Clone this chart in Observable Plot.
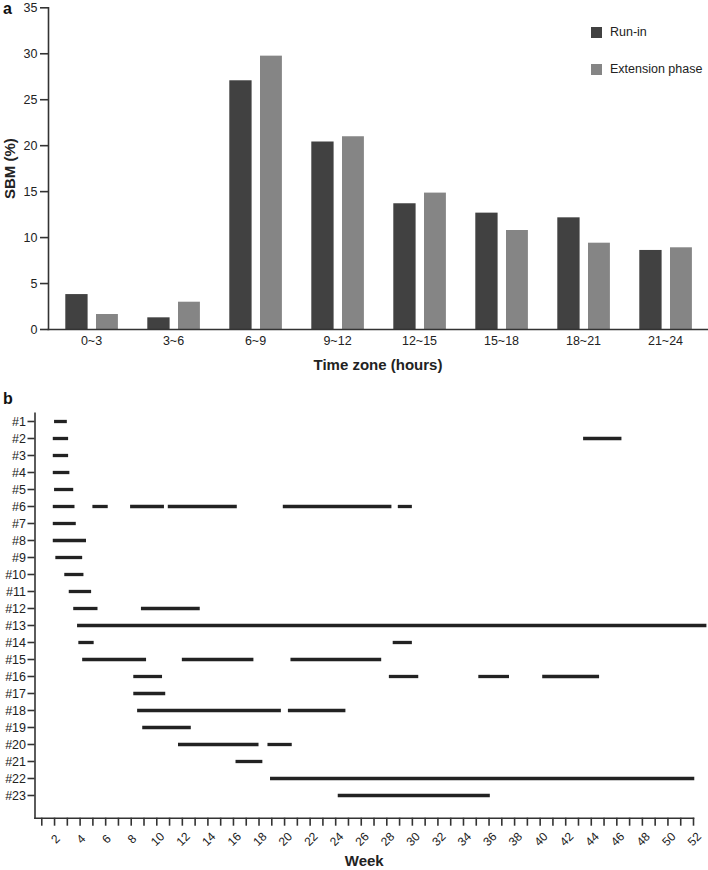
<!DOCTYPE html>
<html>
<head>
<meta charset="utf-8">
<script src="https://cdn.jsdelivr.net/npm/d3@7"></script>
<script src="https://cdn.jsdelivr.net/npm/@observablehq/plot@0.6"></script>
<style>
  html, body { margin: 0; padding: 0; background: #fff; }
  #wrap { position: relative; width: 708px; height: 870px; font-family: "Liberation Sans", Arial, sans-serif; }
  .panel { position: absolute; left: 3px; font-weight: bold; font-size: 16px; color: #111; }
  .legend { position: absolute; left: 591px; font-size: 12.5px; color: #222; display: flex; align-items: center; }
  .legend span.sw { display: inline-block; width: 11px; height: 11px; margin-right: 8px; }
  svg { display: block; }
</style>
</head>
<body>
<div id="wrap">
  <div id="chartA"></div>
  <div id="chartB"></div>
  <div class="panel" style="top:0px;">a</div>
  <div class="panel" style="top:390px;">b</div>
  <div class="legend" style="top:25px;"><span class="sw" style="background:#414141"></span>Run-in</div>
  <div class="legend" style="top:62px;"><span class="sw" style="background:#858585"></span>Extension phase</div>
</div>
<script>
// ---- Panel a data ----
const timeZones = ["0~3", "3~6", "6~9", "9~12", "12~15", "15~18", "18~21", "21~24"];
const runIn = [3.8, 1.27, 27.06, 20.4, 13.68, 12.66, 12.15, 8.6];
const extensionPhase = [1.63, 2.97, 29.74, 20.97, 14.84, 10.77, 9.39, 8.89];
const yTicksA = [0, 5, 10, 15, 20, 25, 30, 35];

// ---- Panel b data ----
const patients = d3.range(1, 24).map(i => "#" + i);
const segRow = ["#1","#2","#2","#3","#4","#5",
  "#6","#6","#6","#6","#6","#6",
  "#7","#8","#9","#10","#11","#12","#12","#13","#14","#14",
  "#15","#15","#15","#16","#16","#16","#16","#17","#18","#18","#19","#20","#20","#21","#22","#23"];
const segStart = [2.0,1.9,43.4,1.9,1.9,2.0,
  1.9,5.0,7.95,10.9,19.9,28.9,
  1.9,1.9,2.1,2.8,3.15,3.5,8.8,3.8,3.9,28.5,
  4.2,12.0,20.5,8.2,28.2,35.2,40.2,8.2,8.5,20.3,8.9,11.7,18.7,16.2,18.9,24.2];
const segEnd = [3.0,3.1,46.4,3.1,3.2,3.5,
  3.6,6.2,10.6,16.3,28.4,30.0,
  3.7,4.5,4.2,4.3,4.9,5.4,13.4,53.05,5.1,30.0,
  9.2,17.6,27.6,10.45,30.5,37.6,44.65,10.7,19.75,24.8,12.7,18.0,20.6,18.3,52.1,36.1];
const weekTicks = d3.range(1, 53);
const weekLabels = d3.range(2, 53, 2);

const barsA = timeZones.map((t, i) => ({zone: t, runIn: runIn[i], ext: extensionPhase[i]}));
const segments = segRow.map((r, i) => ({row: r, start: segStart[i], end: segEnd[i]}));

const font = "Liberation Sans, Arial, sans-serif";

const chartA = Plot.plot({
  width: 708,
  height: 375,
  marginTop: 7.3,
  marginBottom: 46,
  marginLeft: 48,
  marginRight: 1,
  style: {fontFamily: font, fontSize: "12px", color: "#222", background: "#fff"},
  x: {type: "band", domain: timeZones, padding: 0},
  y: {domain: [0, 35]},
  marks: [
    Plot.barY(barsA, {x: "zone", y: "runIn", fill: "#414141", insetLeft: 15.3, insetRight: 44.4}),
    Plot.barY(barsA, {x: "zone", y: "ext", fill: "#858585", insetLeft: 46, insetRight: 14.1}),
    Plot.frame({anchor: "left", stroke: "#333", strokeWidth: 1.6}),
    Plot.frame({anchor: "bottom", stroke: "#333", strokeWidth: 1.6}),
    Plot.axisY({ticks: yTicksA, tickSize: 8, tickPadding: 3, label: null, fontSize: 12.5, stroke: "#333", strokeWidth: 1.6}),
    Plot.axisY({ticks: [], label: "SBM (%)", labelArrow: "none", labelAnchor: "center", labelOffset: 44, fontSize: 15, fontWeight: "bold"}),
    Plot.axisX({tickSize: 0, tickPadding: 7, label: null, fontSize: 12.5}),
    Plot.axisX({ticks: [], label: "Time zone (hours)", labelArrow: "none", labelAnchor: "center", labelOffset: 40, fontSize: 15, fontWeight: "bold"})
  ]
});
document.getElementById("chartA").appendChild(chartA);

const chartB = Plot.plot({
  width: 708,
  height: 495,
  marginTop: 37.7,
  marginBottom: 52.3,
  marginLeft: 34.5,
  marginRight: 15,
  style: {fontFamily: font, fontSize: "12px", color: "#222", background: "#fff", overflow: "visible"},
  x: {domain: [0.47, 52]},
  y: {type: "point", domain: patients, range: [37.7, 428.7]},
  marks: [
    Plot.ruleY(segments, {y: "row", x1: "start", x2: "end", stroke: "#222", strokeWidth: 3.3}),
    Plot.frame({anchor: "left", stroke: "#333", strokeWidth: 1.6}),
    Plot.frame({anchor: "bottom", stroke: "#333", strokeWidth: 1.6}),
    Plot.axisY({tickSize: 7, tickPadding: 2, label: null, fontSize: 12.5, stroke: "#333", strokeWidth: 1.6}),
    Plot.axisX({ticks: weekTicks, tickFormat: () => "", tickSize: 8, label: null, stroke: "#333", strokeWidth: 1.6}),
    Plot.text(weekLabels, {x: d => d, frameAnchor: "bottom", dy: 21, dx: 1, rotate: -45, textAnchor: "middle", lineAnchor: "middle", fontSize: 12, fill: "#222"}),
    Plot.axisX({ticks: [], label: "Week", labelArrow: "none", labelAnchor: "center", labelOffset: 48, fontSize: 15, fontWeight: "bold"})
  ]
});
document.getElementById("chartB").appendChild(chartB);
</script>
</body>
</html>
